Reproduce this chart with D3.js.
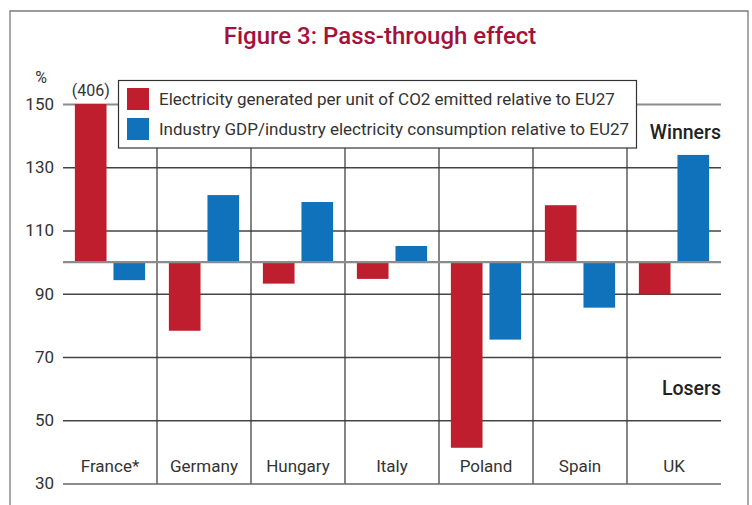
<!DOCTYPE html>
<html>
<head>
<meta charset="utf-8">
<script src="https://cdn.jsdelivr.net/npm/d3@7/dist/d3.min.js"></script>
<style>
  html, body { margin: 0; padding: 0; background: #fff; }
  svg { display: block; }
  text { font-family: Roboto, "Noto Sans", sans-serif; }
</style>
</head>
<body>
<svg id="chart" width="752" height="505"></svg>
<script>
// ---- data ----
const categories = ["France*", "Germany", "Hungary", "Italy", "Poland", "Spain", "UK"];
const seriesNames = [
  "Electricity generated per unit of CO2 emitted relative to EU27",
  "Industry GDP/industry electricity consumption relative to EU27"
];
const electricityPerCO2 = [406, 78.3, 93.2, 94.7, 41.3, 118.0, 89.8];
const gdpPerElectricity = [94.3, 121.2, 119.0, 105.1, 75.5, 85.6, 133.9];
const yTicks = [30, 50, 70, 90, 110, 130, 150];
const baseline = 100;
const title = "Figure 3: Pass-through effect";

// ---- styling ----
const colors = ["#be1e2d", "#1072ba"];
const svg = d3.select("#chart");

const plotLeft = 63, plotRight = 721, plotTop = 104, plotBottom = 483.5;

const x = d3.scaleBand().domain(categories).range([plotLeft, plotRight]).padding(0);
const xs = d3.scaleBand().domain(seriesNames).range([0, x.bandwidth()])
  .paddingInner(7 / 39).paddingOuter(12 / 39);
const y = d3.scaleLinear().domain([30, 150]).range([plotBottom, plotTop]).clamp(true);

// outer frame
svg.append("path")
  .attr("d", "M10,505 L10,11 L748,11 L748,505")
  .attr("fill", "none").attr("stroke", "#7a7a7a").attr("stroke-width", 1.3);

// title
svg.append("text").attr("x", 380).attr("y", 44).attr("text-anchor", "middle")
  .attr("font-size", 24).attr("font-weight", 500).attr("fill", "#a3123a")
  .text(title);

// y axis with gridlines
const yAxis = d3.axisLeft(y).tickValues(yTicks).tickSize(-(plotRight - plotLeft)).tickPadding(9);
const gy = svg.append("g").attr("transform", `translate(${plotLeft},0)`).call(yAxis);
gy.select(".domain").remove();
gy.selectAll(".tick line")
  .attr("stroke", d => (d === 150 || d === 30) ? "#8c8c8c" : "#444")
  .attr("stroke-width", d => (d === 150 || d === 30) ? 2 : 1.4);
gy.selectAll(".tick text").attr("font-size", 17).attr("fill", "#333")
  .attr("font-family", "Roboto, sans-serif");

svg.append("text").attr("x", 41).attr("y", 83).attr("text-anchor", "middle")
  .attr("font-size", 16).attr("fill", "#333").text("%");

// vertical separators
svg.append("g").selectAll("line").data(categories.slice(1)).join("line")
  .attr("x1", d => x(d)).attr("x2", d => x(d))
  .attr("y1", plotTop).attr("y2", plotBottom)
  .attr("stroke", "#333").attr("stroke-width", 1.2);

// bars
const series = [electricityPerCO2, gdpPerElectricity];
series.forEach((vals, si) => {
  svg.append("g").selectAll("rect").data(vals).join("rect")
    .attr("x", (d, i) => x(categories[i]) + xs(seriesNames[si]))
    .attr("width", xs.bandwidth())
    .attr("y", d => Math.min(y(d), y(baseline)))
    .attr("height", d => Math.abs(y(d) - y(baseline)))
    .attr("fill", colors[si]);
  // overflow labels
  svg.append("g").selectAll("text").data(vals.map((v, i) => ({v, i})).filter(o => o.v > 150)).join("text")
    .attr("x", o => x(categories[o.i]) + xs(seriesNames[si]) + xs.bandwidth() / 2)
    .attr("y", plotTop - 8).attr("text-anchor", "middle")
    .attr("font-size", 16).attr("fill", "#333")
    .text(o => `(${o.v})`);
});

// baseline 100
svg.append("line").attr("x1", plotLeft).attr("x2", plotRight)
  .attr("y1", y(baseline)).attr("y2", y(baseline))
  .attr("stroke", "#8c8c8c").attr("stroke-width", 2.2);

// category labels
svg.append("g").selectAll("text").data(categories).join("text")
  .attr("x", d => x(d) + x.bandwidth() / 2).attr("y", 472)
  .attr("text-anchor", "middle").attr("font-size", 17).attr("fill", "#333")
  .text(d => d);

// Winners / Losers
svg.append("text").attr("x", plotRight).attr("y", 139).attr("text-anchor", "end")
  .attr("font-size", 19.5).attr("font-weight", 500).attr("fill", "#222").text("Winners");
svg.append("text").attr("x", plotRight).attr("y", 395).attr("text-anchor", "end")
  .attr("font-size", 19.5).attr("font-weight", 500).attr("fill", "#222").text("Losers");

// legend
const lg = svg.append("g");
lg.append("rect").attr("x", 118.5).attr("y", 80.5).attr("width", 518).attr("height", 67.5)
  .attr("fill", "#fff").attr("stroke", "#333").attr("stroke-width", 1.2);
seriesNames.forEach((name, i) => {
  lg.append("rect").attr("x", 127).attr("y", 88 + i * 30).attr("width", 22).attr("height", 22)
    .attr("fill", colors[i]);
  lg.append("text").attr("x", 159).attr("y", 105 + i * 30)
    .attr("font-size", 17).attr("fill", "#333").text(name);
});
</script>
</body>
</html>
